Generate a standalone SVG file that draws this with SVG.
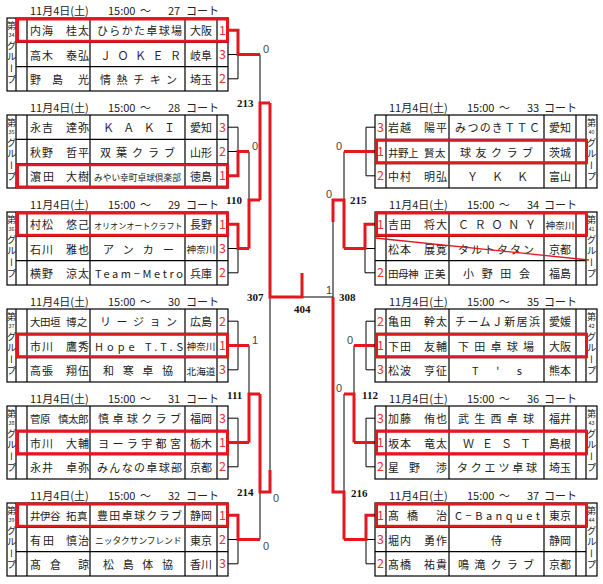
<svg xmlns="http://www.w3.org/2000/svg" xmlns:xlink="http://www.w3.org/1999/xlink" width="603" height="584" viewBox="0 0 603 584">
<style>
.f{font-family:"Noto Sans CJK JP","Noto Sans CJK SC",sans-serif;fill:#222}
.ti{font-size:11px}
.nm{font-size:11px}
.n3{font-size:10.5px}
.tm{font-size:11px}
.tc{font-size:8.7px}
.tc2{font-size:8.05px}
.pf{font-size:11px;text-anchor:middle}
.p3{font-size:9.6px;text-anchor:middle}
.sc{font-size:12.5px;fill:#e63232;text-anchor:middle}
.g1{font-size:9px;text-anchor:middle}
.g2{font-size:5.5px;text-anchor:middle}
.g3{font-size:9.5px;writing-mode:vertical-rl;letter-spacing:1.6px}
.grid{stroke:#000;stroke-width:1.2;fill:none}
.rb{stroke:#e5161d;stroke-width:3;fill:none}
.bl{stroke:#000;stroke-width:1;fill:none}
.rd{stroke:#e5161d;stroke-width:3;fill:none;stroke-linejoin:miter}
.lb{font-family:"Liberation Serif",serif;font-weight:bold;font-size:11px;fill:#111}
.sn{font-family:"Liberation Sans",sans-serif;font-size:11px;fill:#444}
</style>
<defs>
<g id="lt" class="grid"><rect x="7" y="0" width="221" height="73"/><path d="M16 0V73M27 0V73M90 0V73M185 0V73M217 0V73M16 24.3H228M16 48.7H228"/></g>
<g id="rt" class="grid"><rect x="375" y="0" width="222" height="73"/><path d="M386 0V73M449 0V73M544 0V73M576 0V73M586 0V73M375 24.3H586M375 48.7H586"/></g>
</defs>
<rect width="603" height="584" fill="#fff"/>

<g id="connectors">
<path class="bl" d="M228 54.5H238M228 78.8H238M238 54.5V78.8M228 127.2H238M228 151.5H238M238 127.2V151.5M228 248.5H238M228 272.8H238M238 248.5V272.8M228 321.2H238V369.8H228M228 418.2H238V466.8H228M228 539.5H238M228 563.8H238M238 539.5V563.8M249 151.5V200M249 345.5V394M260 54.5V103M260 492V539.5M270 297V492M302 297H333"/>
<path class="bl" d="M375 127.2H366V175.8H375M375 248.5H365M375 272.8H365M365 248.5V272.8M375 321.2H366V369.8H375M375 418.2H366V466.8H375M375 539.5H366M375 563.8H366M366 539.5V563.8M344 151.5V200M354 345.5V394M344 394V492M333 200V297"/>
<path class="rd" d="M228 30.2H238V54.5H260M228 175.8H238V151.5H249M228 224.2H238V248.5H249M228 345.5H249M228 442.5H249M228 515.2H238V539.5H260M249 248.5V200H260M249 442.5V394H260M260 200V103H270M260 394V492H270V470M270 103V297H302V273"/>
<path class="rd" d="M375 151.5H344M375 224.2H365V248.5H344M375 345.5H354M375 442.5H354M375 515.2H366V539.5H344M344 248.5V200H333V222M354 442.5V394H344M344 539.5V492H333V297"/>
<text class="lb" x="237" y="107">213</text>
<text class="lb" x="226" y="204">110</text>
<text class="lb" x="247" y="301">307</text>
<text class="lb" x="227" y="399">111</text>
<text class="lb" x="237" y="496">214</text>
<text class="lb" x="294" y="313">404</text>
<text class="lb" x="339" y="301">308</text>
<text class="lb" x="350" y="204">215</text>
<text class="lb" x="362" y="399">112</text>
<text class="lb" x="351" y="497">216</text>
<text class="sn" x="263" y="53">0</text>
<text class="sn" x="252" y="150">0</text>
<text class="sn" x="252" y="344">1</text>
<text class="sn" x="273" y="502">0</text>
<text class="sn" x="263" y="550">0</text>
<text class="sn" x="326" y="294">1</text>
<text class="sn" x="336" y="150">0</text>
<text class="sn" x="326" y="198">0</text>
<text class="sn" x="347" y="344">0</text>
<text class="sn" x="336" y="392">0</text>
</g>

<g class="f">
<!-- left tables -->
<g id="t27" transform="translate(0,18)">
<text class="ti" y="-3"><tspan x="30">11月4日(土)</tspan><tspan x="108">15:00</tspan><tspan x="140">～</tspan><tspan x="168">27</tspan><tspan x="186">コート</tspan></text>
<use href="#lt"/>
<rect class="rb" x="17.5" y="1" width="210" height="22.3"/>
<text class="g1" x="11.5" y="10.5">第</text><text class="g2" x="11.5" y="19">34</text><text class="g3" x="11.5" y="23">グループ</text>
<text class="nm" x="30 42 66 78" y="17.2">内海桂太</text>
<text class="nm" x="30 42 66 78" y="41.5">高木泰弘</text>
<text class="nm" x="30 52 78" y="65.8">野島光</text>
<text class="tm" x="97" y="17.2" textLength="85" lengthAdjust="spacing">ひらかた卓球場</text>
<text class="tm" x="100" y="41.5" textLength="81" lengthAdjust="spacing">ＪＯＫＥＲ</text>
<text class="tm" x="100" y="65.8" textLength="77" lengthAdjust="spacing">情熱チキン</text>
<text class="pf" x="201" y="17.2">大阪</text><text class="pf" x="201" y="41.5">岐阜</text><text class="pf" x="201" y="65.8">埼玉</text>
<text class="sc" x="222.5" y="17">1</text><text class="sc" x="222.5" y="41">3</text><text class="sc" x="222.5" y="65">2</text>
</g>

<g id="t28" transform="translate(0,115)">
<text class="ti" y="-3"><tspan x="30">11月4日(土)</tspan><tspan x="108">15:00</tspan><tspan x="140">～</tspan><tspan x="168">28</tspan><tspan x="186">コート</tspan></text>
<use href="#lt"/>
<rect class="rb" x="17.5" y="49.7" width="210" height="22.3"/>
<text class="g1" x="11.5" y="10.5">第</text><text class="g2" x="11.5" y="19">35</text><text class="g3" x="11.5" y="23">グループ</text>
<text class="nm" x="30 42 66 78" y="17.2">永吉達弥</text>
<text class="nm" x="30 42 66 78" y="41.5">秋野哲平</text>
<text class="nm" x="30 43 66 78" y="65.8">濵田大樹</text>
<text class="tm" x="103" y="17.2" textLength="72" lengthAdjust="spacing">ＫＡＫＩ</text>
<text class="tm" x="100" y="41.5" textLength="75" lengthAdjust="spacing">双葉クラブ</text>
<text class="tc" x="94" y="65.5">みやい幸町卓球倶楽部</text>
<text class="pf" x="201" y="17.2">愛知</text><text class="pf" x="201" y="41.5">山形</text><text class="pf" x="201" y="65.8">徳島</text>
<text class="sc" x="222.5" y="17">3</text><text class="sc" x="222.5" y="41">2</text><text class="sc" x="222.5" y="65">1</text>
</g>

<g id="t29" transform="translate(0,212)">
<text class="ti" y="-3"><tspan x="30">11月4日(土)</tspan><tspan x="108">15:00</tspan><tspan x="140">～</tspan><tspan x="168">29</tspan><tspan x="186">コート</tspan></text>
<use href="#lt"/>
<rect class="rb" x="17.5" y="1" width="210" height="22.3"/>
<text class="g1" x="11.5" y="10.5">第</text><text class="g2" x="11.5" y="19">36</text><text class="g3" x="11.5" y="23">グループ</text>
<text class="nm" x="30 42 66 78" y="17.2">村松悠己</text>
<text class="nm" x="30 42 66 78" y="41.5">石川雅也</text>
<text class="nm" x="30 42 66 78" y="65.8">横野涼太</text>
<text class="tc2" x="94" y="16.9">オリオンオートクラフト</text>
<text class="tm" x="103" y="41.5" textLength="71" lengthAdjust="spacing">アンカー</text>
<text class="tm" x="95" y="65.8" textLength="88" lengthAdjust="spacing">Team−Metro</text>
<text class="pf" x="201" y="17.2">長野</text><text class="p3" x="201" y="41.2">神奈川</text><text class="pf" x="201" y="65.8">兵庫</text>
<text class="sc" x="222.5" y="17">1</text><text class="sc" x="222.5" y="41">3</text><text class="sc" x="222.5" y="65">2</text>
</g>

<g id="t30" transform="translate(0,309)">
<text class="ti" y="-3"><tspan x="30">11月4日(土)</tspan><tspan x="108">15:00</tspan><tspan x="140">～</tspan><tspan x="168">30</tspan><tspan x="186">コート</tspan></text>
<use href="#lt"/>
<rect class="rb" x="17.5" y="25.3" width="210" height="22.4"/>
<text class="g1" x="11.5" y="10.5">第</text><text class="g2" x="11.5" y="19">37</text><text class="g3" x="11.5" y="23">グループ</text>
<text class="n3" x="30 40 50 66 77" y="17.2">大田垣博之</text>
<text class="nm" x="30 42 66 78" y="41.5">市川鷹秀</text>
<text class="nm" x="30 42 66 78" y="65.8">高張翔伍</text>
<text class="tm" x="100" y="17.2" textLength="77" lengthAdjust="spacing">リージョン</text>
<text class="tm" x="95" y="41.5" textLength="88" lengthAdjust="spacing">Hope T.T.S</text>
<text class="tm" x="103" y="65.8" textLength="70" lengthAdjust="spacing">和寒卓協</text>
<text class="pf" x="201" y="17.2">広島</text><text class="p3" x="201" y="41.2">神奈川</text><text class="p3" x="201" y="65.5">北海道</text>
<text class="sc" x="222.5" y="17">2</text><text class="sc" x="222.5" y="41">1</text><text class="sc" x="222.5" y="65">3</text>
</g>

<g id="t31" transform="translate(0,406)">
<text class="ti" y="-3"><tspan x="30">11月4日(土)</tspan><tspan x="108">15:00</tspan><tspan x="140">～</tspan><tspan x="168">31</tspan><tspan x="186">コート</tspan></text>
<use href="#lt"/>
<rect class="rb" x="17.5" y="25.3" width="210" height="22.4"/>
<text class="g1" x="11.5" y="10.5">第</text><text class="g2" x="11.5" y="19">38</text><text class="g3" x="11.5" y="23">グループ</text>
<text class="n3" x="30 40 58 68 78" y="17.2">菅原慎太郎</text>
<text class="nm" x="30 42 66 78" y="41.5">市川大輔</text>
<text class="nm" x="30 42 66 78" y="65.8">永井卓弥</text>
<text class="tm" x="98" y="17.2" textLength="83" lengthAdjust="spacing">慎卓球クラブ</text>
<text class="tm" x="98" y="41.5" textLength="83" lengthAdjust="spacing">ヨーラ宇都宮</text>
<text class="tm" x="97" y="65.8" textLength="85" lengthAdjust="spacing">みんなの卓球部</text>
<text class="pf" x="201" y="17.2">福岡</text><text class="pf" x="201" y="41.5">栃木</text><text class="pf" x="201" y="65.8">京都</text>
<text class="sc" x="222.5" y="17">3</text><text class="sc" x="222.5" y="41">1</text><text class="sc" x="222.5" y="65">2</text>
</g>

<g id="t32" transform="translate(0,503)">
<text class="ti" y="-3"><tspan x="30">11月4日(土)</tspan><tspan x="108">15:00</tspan><tspan x="140">～</tspan><tspan x="168">32</tspan><tspan x="186">コート</tspan></text>
<use href="#lt"/>
<rect class="rb" x="17.5" y="1" width="210" height="22.3"/>
<text class="g1" x="11.5" y="10.5">第</text><text class="g2" x="11.5" y="19">39</text><text class="g3" x="11.5" y="23">グループ</text>
<text class="n3" x="30 40 50 66 77" y="17.2">井伊谷拓真</text>
<text class="nm" x="30 43 66 78" y="41.5">有田慎治</text>
<text class="nm" x="30 50 78" y="65.8">髙倉諒</text>
<text class="tm" x="97" y="17.2" textLength="85" lengthAdjust="spacing">豊田卓球クラブ</text>
<text class="tc" x="95" y="41.2">ニッタクサンフレンド</text>
<text class="tm" x="103" y="65.8" textLength="70" lengthAdjust="spacing">松島体協</text>
<text class="pf" x="201" y="17.2">静岡</text><text class="pf" x="201" y="41.5">東京</text><text class="pf" x="201" y="65.8">香川</text>
<text class="sc" x="222.5" y="17">1</text><text class="sc" x="222.5" y="41">2</text><text class="sc" x="222.5" y="65">3</text>
</g>

<!-- right tables -->
<g id="t33" transform="translate(0,115)">
<text class="ti" y="-3"><tspan x="389">11月4日(土)</tspan><tspan x="467">15:00</tspan><tspan x="499">～</tspan><tspan x="527">33</tspan><tspan x="544">コート</tspan></text>
<use href="#rt"/>
<rect class="rb" x="376.5" y="25.3" width="210" height="22.4"/>
<text class="g1" x="591.5" y="10.5">第</text><text class="g2" x="591.5" y="19">40</text><text class="g3" x="591.5" y="23">グループ</text>
<text class="sc" x="380.5" y="17">3</text><text class="sc" x="380.5" y="41">1</text><text class="sc" x="380.5" y="65">2</text>
<text class="nm" x="388 400 424 436" y="17.2">岩越陽平</text>
<text class="n3" x="388 398 408 424 435" y="41.5">井野上賢太</text>
<text class="nm" x="388 400 424 436" y="65.8">中村明弘</text>
<text class="tm" x="455" y="17.2" textLength="85" lengthAdjust="spacing">みつのきＴＴＣ</text>
<text class="tm" x="460" y="41.5" textLength="73" lengthAdjust="spacing">球友クラブ</text>
<text class="tm" x="467" y="65.8" textLength="61" lengthAdjust="spacing">ＹＫＫ</text>
<text class="pf" x="560" y="17.2">愛知</text><text class="pf" x="560" y="41.5">茨城</text><text class="pf" x="560" y="65.8">富山</text>
</g>

<g id="t34" transform="translate(0,212)">
<text class="ti" y="-3"><tspan x="389">11月4日(土)</tspan><tspan x="467">15:00</tspan><tspan x="499">～</tspan><tspan x="527">34</tspan><tspan x="544">コート</tspan></text>
<use href="#rt"/>
<rect class="rb" x="376.5" y="1" width="210" height="22.3"/>
<text class="g1" x="591.5" y="10.5">第</text><text class="g2" x="591.5" y="19">41</text><text class="g3" x="591.5" y="23">グループ</text>
<text class="sc" x="380.5" y="17">1</text><text class="sc" x="380.5" y="65">2</text>
<text class="nm" x="388 400 424 436" y="17.2">吉田将大</text>
<text class="nm" x="388 400 424 436" y="41.5">松本展寛</text>
<text class="n3" x="388 398 408 424 435" y="65.8">田母神正美</text>
<text class="tm" x="458" y="17.2" textLength="78" lengthAdjust="spacing">ＣＲＯＮＹ</text>
<text class="tm" x="458" y="41.5" textLength="76" lengthAdjust="spacing">タルトタタン</text>
<text class="tm" x="463" y="65.8" textLength="67" lengthAdjust="spacing">小野田会</text>
<text class="p3" x="560" y="17">神奈川</text><text class="pf" x="560" y="41.5">京都</text><text class="pf" x="560" y="65.8">福島</text>
<path d="M375 26L589 48" stroke="#e5161d" stroke-width="1.3" fill="none"/>
</g>

<g id="t35" transform="translate(0,309)">
<text class="ti" y="-3"><tspan x="389">11月4日(土)</tspan><tspan x="467">15:00</tspan><tspan x="499">～</tspan><tspan x="527">35</tspan><tspan x="544">コート</tspan></text>
<use href="#rt"/>
<rect class="rb" x="376.5" y="25.3" width="210" height="22.4"/>
<text class="g1" x="591.5" y="10.5">第</text><text class="g2" x="591.5" y="19">42</text><text class="g3" x="591.5" y="23">グループ</text>
<text class="sc" x="380.5" y="17">2</text><text class="sc" x="380.5" y="41">1</text><text class="sc" x="380.5" y="65">3</text>
<text class="nm" x="388 400 424 436" y="17.2">亀田幹太</text>
<text class="nm" x="388 400 424 436" y="41.5">下田友輔</text>
<text class="nm" x="388 400 424 436" y="65.8">松波亨征</text>
<text class="tm" x="455" y="17.2" textLength="85" lengthAdjust="spacing">チームＪ新居浜</text>
<text class="tm" x="458" y="41.5" textLength="76" lengthAdjust="spacing">下田卓球場</text>
<text class="tm" x="472" y="65.8" textLength="50" lengthAdjust="spacing">T's</text>
<text class="pf" x="560" y="17.2">愛媛</text><text class="pf" x="560" y="41.5">大阪</text><text class="pf" x="560" y="65.8">熊本</text>
</g>

<g id="t36" transform="translate(0,406)">
<text class="ti" y="-3"><tspan x="389">11月4日(土)</tspan><tspan x="467">15:00</tspan><tspan x="499">～</tspan><tspan x="527">36</tspan><tspan x="544">コート</tspan></text>
<use href="#rt"/>
<rect class="rb" x="376.5" y="25.3" width="210" height="22.4"/>
<text class="g1" x="591.5" y="10.5">第</text><text class="g2" x="591.5" y="19">43</text><text class="g3" x="591.5" y="23">グループ</text>
<text class="sc" x="380.5" y="17">3</text><text class="sc" x="380.5" y="41">1</text><text class="sc" x="380.5" y="65">2</text>
<text class="nm" x="388 400 424 436" y="17.2">加藤侑也</text>
<text class="nm" x="388 400 424 436" y="41.5">坂本竜太</text>
<text class="nm" x="388 409 436" y="65.8">星野渉</text>
<text class="tm" x="458" y="17.2" textLength="76" lengthAdjust="spacing">武生西卓球</text>
<text class="tm" x="463" y="41.5" textLength="68" lengthAdjust="spacing">ＷＥＳＴ</text>
<text class="tm" x="457" y="65.8" textLength="80" lengthAdjust="spacing">タクエツ卓球</text>
<text class="pf" x="560" y="17.2">福井</text><text class="pf" x="560" y="41.5">島根</text><text class="pf" x="560" y="65.8">埼玉</text>
</g>

<g id="t37" transform="translate(0,503)">
<text class="ti" y="-3"><tspan x="389">11月4日(土)</tspan><tspan x="467">15:00</tspan><tspan x="499">～</tspan><tspan x="527">37</tspan><tspan x="544">コート</tspan></text>
<use href="#rt"/>
<rect class="rb" x="376.5" y="1" width="210" height="22.3"/>
<text class="g1" x="591.5" y="10.5">第</text><text class="g2" x="591.5" y="19">44</text><text class="g3" x="591.5" y="23">グループ</text>
<text class="sc" x="380.5" y="17">1</text><text class="sc" x="380.5" y="41">3</text><text class="sc" x="380.5" y="65">2</text>
<text class="nm" x="388 407 436" y="17.2">髙橋治</text>
<text class="nm" x="388 400 424 436" y="41.5">堀内勇作</text>
<text class="nm" x="388 400 424 436" y="65.8">髙橋祐貴</text>
<text class="tm" x="455" y="17.2" textLength="85" lengthAdjust="spacing">C−Banquet</text>
<text class="tm" x="496.5" y="41.5" text-anchor="middle">侍</text>
<text class="tm" x="458" y="65.8" textLength="76" lengthAdjust="spacing">鳴滝クラブ</text>
<text class="pf" x="560" y="17.2">東京</text><text class="pf" x="560" y="41.5">静岡</text><text class="pf" x="560" y="65.8">京都</text>
</g>
</g>
</svg>
